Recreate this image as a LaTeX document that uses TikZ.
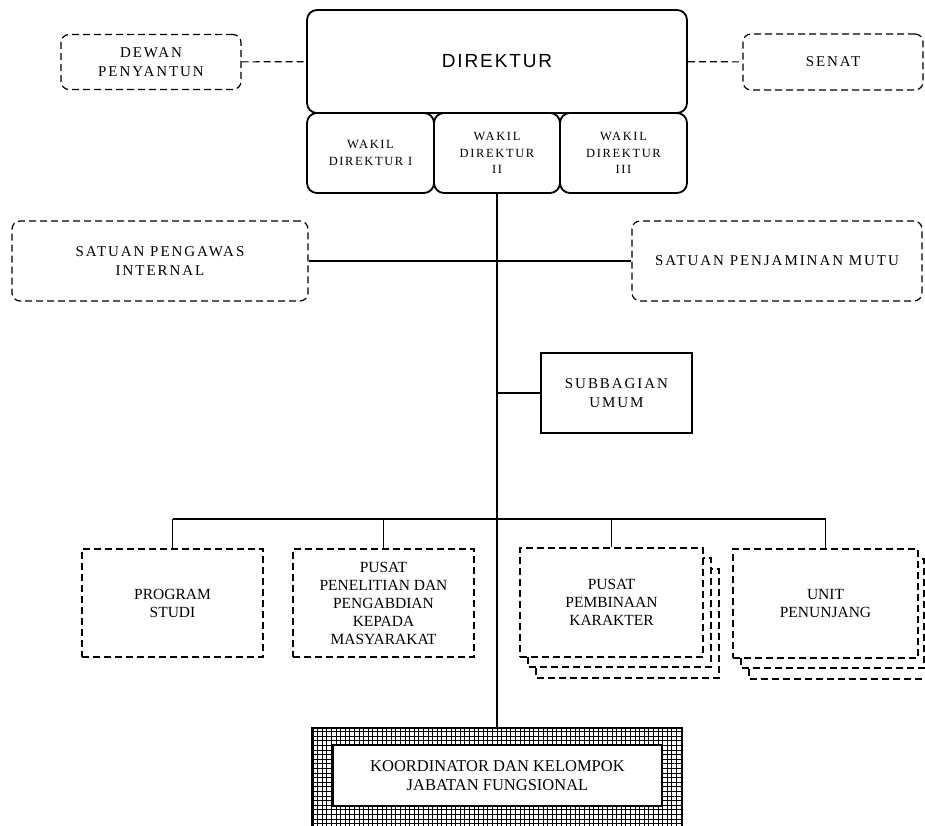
\documentclass[tikz,border=0pt]{standalone}
\usepackage{fontspec}
\newfontfamily\lbl{Liberation Serif}
\newfontfamily\lblsp[LetterSpace=13]{Liberation Serif}
\newfontfamily\dirfont[LetterSpace=10]{Liberation Sans}

\begin{document}
\begin{tikzpicture}
  [x=1pt,y=-1pt,
   box/.style={draw,line width=1.2pt,inner sep=0pt,align=center,fill=white},
   dbox/.style={box,dash pattern=on 7pt off 4pt},
   rbox/.style={dbox,rounded corners=8pt},
   dirbox/.style={box,line width=1.8pt,rounded corners=10pt},
   topfont/.style={font=\lblsp\fontsize{15}{19.5}\selectfont},
   wakfont/.style={font=\lblsp\fontsize{12.5}{16.5}\selectfont},
   botfont/.style={font=\lbl\fontsize{15.5}{18}\selectfont},
   link/.style={line width=1.2pt}]
  \useasboundingbox (0,0) rectangle (925,825);

  \node[dirbox,minimum width=380,minimum height=103,font=\dirfont\fontsize{19}{23}\selectfont] (n0) at (497,61.5) {DIREKTUR};
  \node[dirbox,wakfont,minimum width=127,minimum height=80] (n1) at (370.5,153) {WAKIL\\DIREKTUR I};
  \node[dirbox,wakfont,minimum width=126,minimum height=80] (n2) at (497,153) {WAKIL\\DIREKTUR\\II};
  \node[dirbox,wakfont,minimum width=127,minimum height=80] (n3) at (623.5,153) {WAKIL\\DIREKTUR\\III};

  \node[rbox,topfont,minimum width=180,minimum height=55] (n4) at (151,62) {DEWAN\\PENYANTUN};
  \node[rbox,topfont,minimum width=180,minimum height=56] (n5) at (833,62) {SENAT};
  \node[rbox,topfont,minimum width=296,minimum height=80] (n6) at (160,261) {SATUAN PENGAWAS\\INTERNAL};
  \node[rbox,topfont,minimum width=290,minimum height=80] (n7) at (777,261) {SATUAN PENJAMINAN MUTU};
  \node[box,topfont,minimum width=151,minimum height=80] (n8) at (616.5,393) {SUBBAGIAN\\UMUM};

  \foreach \x/\y in {520/548, 733/549}
    \foreach \d/\e in {16/21, 8/10}
      \draw[dbox] (\x+\d,\y+\e) rectangle +(183,109);

  \node[dbox,botfont,minimum width=181,minimum height=108] (n9) at (172.5,603) {PROGRAM\\STUDI};
  \node[dbox,botfont,minimum width=181,minimum height=108] (n10) at (383.5,603) {PUSAT\\PENELITIAN DAN\\PENGABDIAN\\KEPADA\\MASYARAKAT};
  \node[dbox,botfont,minimum width=183,minimum height=109] (n11) at (611.5,602.5) {PUSAT\\PEMBINAAN\\KARAKTER};
  \node[dbox,botfont,minimum width=185,minimum height=109] (n12) at (825.5,603.5) {UNIT\\PENUNJANG};

  \draw[line width=0.6pt,step=4.6pt] (312,728) grid (682,826);
  \draw[line width=1.2pt] (312,826) -- (312,728) -- (682,728) -- (682,826);
  \node[box,botfont,font=\lbl\fontsize{16.5}{19}\selectfont,minimum width=329,minimum height=61] (n13) at (497.5,775.5) {KOORDINATOR DAN KELOMPOK\\JABATAN FUNGSIONAL};

  \coordinate (k) at (497,728);
  \coordinate (b) at (497,519);

  \foreach \from/\to in {n4/n0, n0/n5}
    \draw[link,dash pattern=on 7pt off 4pt] (\from) -- (\to);
  \draw[link] (n2.south) -- (k);
  \draw[link] (n6) -- (n7);
  \draw[link] (n8.west) -- (n8.west -| k);
  \draw[link] (n9.north |- b) -- (n12.north |- b);
  \foreach \to in {n9,n10,n11,n12}
    \draw[link] (\to.north) -- (\to.north |- b);
\end{tikzpicture}
\end{document}
